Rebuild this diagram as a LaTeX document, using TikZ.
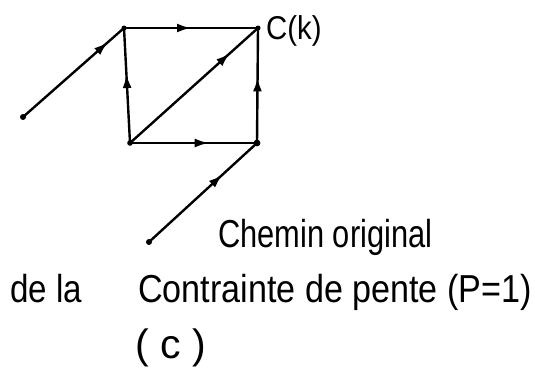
\documentclass[tikz,border=0pt]{standalone}
\usepackage{fontspec}
\setmainfont{Liberation Sans}
\usetikzlibrary{arrows.meta,decorations.markings}
\tikzset{
  pt/.style={circle,fill=black,inner sep=0pt,minimum size=6pt},
  vx/.style={circle,inner sep=0pt,minimum size=0pt},
  edge/.style={line width=2.4pt},
  arr/.style={edge,postaction={decorate},decoration={markings,
     mark=at position #1 with {\arrow{Latex[length=14pt,width=9pt]}}}},
  lbl/.style={inner sep=0pt}
}
\newcommand{\txt}[3]{\scalebox{#2}[1]{\fontsize{#1}{#1}\selectfont #3}}
\begin{document}
\begin{tikzpicture}[x=1pt,y=-1pt]
\useasboundingbox (0,0) rectangle (535,370);
\node[vx] (tl) at (124,28) {};
\node[vx] (tr) at (258,28) {};
\node[vx] (bl) at (130,143) {};
\node[vx] (br) at (257,143) {};
\node[pt] (s1) at (23,117) {};
\node[pt] (s2) at (149,242) {};
\fill (tl) circle (2.5pt) (tr) circle (2.5pt) (bl) circle (2.8pt) (br) circle (3.4pt);
\draw[arr=0.84] (s1.center) -- (tl.center);
\draw[arr=0.5] (tl.center) -- (tr.center);
\draw[arr=0.6] (bl.center) -- (tl.center);
\draw[arr=0.78] (bl.center) -- (tr.center);
\draw[arr=0.62] (bl.center) -- (br.center);
\draw[arr=0.57] (br.center) -- (tr.center);
\draw[arr=0.68] (s2.center) -- (br.center);
\node[lbl,anchor=base west] (ck) at (266,39) {\txt{33}{0.89}{C(k)}};
\node[lbl,anchor=base west] (t1) at (218,247) {\txt{39}{0.79}{Chemin original}};
\node[lbl,anchor=base west] (t2a) at (10,302) {\txt{39}{0.85}{de la}};
\node[lbl,anchor=base west] (t2b) at (138,302) {\txt{39}{0.875}{Contrainte de pente (P=1)}};
\node[lbl,anchor=base west] (t3) at (135,358) {\txt{41}{1}{( c )}};
\end{tikzpicture}
\end{document}
